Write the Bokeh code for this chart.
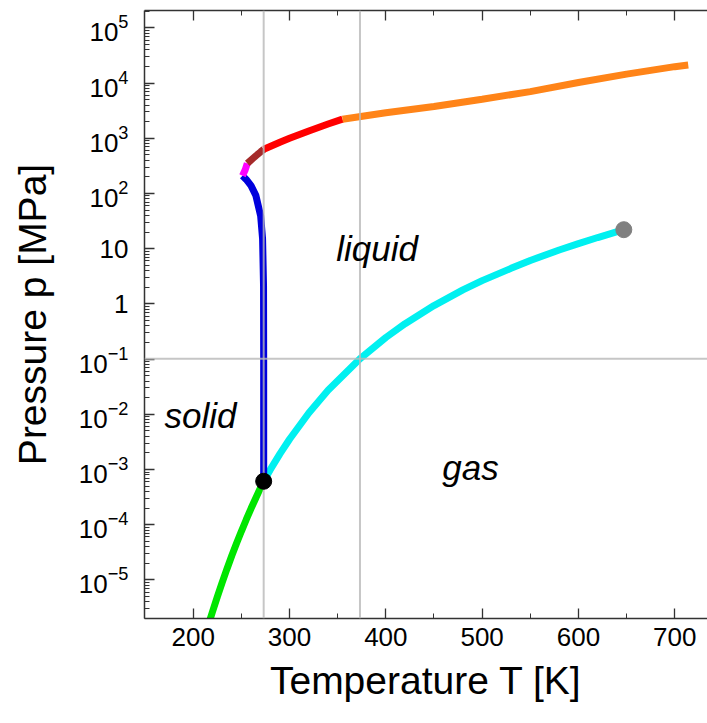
from bokeh.plotting import figure
from bokeh.models import Range1d, FixedTicker, LinearAxis, Label, Span, CustomJSTickFormatter, LogTickFormatter
from bokeh.embed import file_html
from bokeh.resources import INLINE

# ---------------- data (T in K, p in MPa) ----------------
sub_T = [215.0, 220.0, 225.0, 230.0, 235.0, 240.0, 245.0, 250.0, 255.0, 260.0, 265.0, 270.0, 273.16]
sub_p = [1.41e-6, 2.65e-6, 4.93e-6, 8.94e-6, 1.58e-5, 2.73e-5, 4.60e-5, 7.60e-5, 1.23e-4, 1.96e-4, 3.05e-4, 4.70e-4, 6.117e-4]

vap_T = [273.16, 280.0, 290.0, 300.0, 320.0, 340.0, 373.15, 400.0, 420.0, 450.0, 480.0, 500.0, 530.0, 550.0, 580.0, 600.0, 620.0, 647.1]
vap_p = [6.117e-4, 9.92e-4, 1.92e-3, 3.537e-3, 1.055e-2, 2.719e-2, 0.1013, 0.2458, 0.4373, 0.9322, 1.7905, 2.639, 4.397, 6.117, 9.46, 12.34, 15.91, 22.06]

ih_T = [273.16, 273.16, 273.15, 273.0, 272.0, 270.0, 265.0, 260.0, 255.0, 251.165]
ih_p = [6.117e-4, 0.01, 0.1013, 2.145, 15.14, 39.31, 92.33, 138.3, 179.4, 209.9]

iii_T = [251.165, 254.0, 256.164]
iii_p = [209.9, 268.8, 350.1]

v_T = [256.164, 260.0, 265.0, 270.0, 273.31]
v_p = [350.1, 402.6, 479.7, 567.6, 632.4]

vi_T = [273.31, 290.0, 300.0, 320.0, 340.0, 355.0]
vi_p = [632.4, 845.5, 996.5, 1356.8, 1808.3, 2216.0]

vii_T = [355.0, 400.0, 450.0, 500.0, 550.0, 600.0, 650.0, 700.0, 714.0]
vii_p = [2216.0, 2900.0, 3750.0, 5100.0, 7000.0, 10200.0, 14500.0, 19800.0, 21300.0]

triple_T = [273.16]
triple_p = [6.117e-4]
crit_T = [647.1]
crit_p = [22.06]

freezing_T = 273.15
boiling_T = 373.15
atm_p = 0.101325

region_names = ["solid", "liquid", "gas"]
region_T = [207.6, 391.0, 488.0]
region_p = [0.0095, 10.0, 1.08e-3]

x_major = [200, 300, 400, 500, 600, 700]
x_minor = [250, 350, 450, 550, 650]
y_exps = list(range(-5, 6))
y_major = [10.0 ** e for e in y_exps]
y_minor = [k * 10.0 ** e for e in range(-6, 6) for k in range(2, 10)]
y_plain = {1.0: "1", 10.0: "10"}

# ---------------- figure ----------------
W, H = 707, 723
x0, x1 = 149.4, 734.0
y0, y1 = 2.0e-6, 2.06e5

p = figure(width=W, height=H, x_range=Range1d(x0, x1), y_range=Range1d(y0, y1),
           y_axis_type="log", output_backend="svg", toolbar_location=None,
           min_border_left=144, min_border_right=0, min_border_top=10, min_border_bottom=105)
p.outline_line_color = None
p.xgrid.visible = False
p.ygrid.visible = False
p.background_fill_color = "white"
p.border_fill_color = "white"

AX = "#333333"
FONT = "Liberation Sans"

def style_axis(ax):
    ax.axis_line_color = AX
    ax.axis_line_width = 1.5
    ax.major_tick_line_color = AX
    ax.minor_tick_line_color = AX
    ax.major_tick_line_width = 1.3
    ax.minor_tick_line_width = 1.0
    ax.major_tick_in = 10
    ax.major_tick_out = 0
    ax.minor_tick_in = 5
    ax.minor_tick_out = 0

xa = p.xaxis[0]
xa.ticker = FixedTicker(ticks=x_major, minor_ticks=x_minor)
style_axis(xa)
xa.major_label_text_font = FONT
xa.major_label_text_font_size = "26px"
xa.major_label_text_color = "black"
xa.major_label_standoff = 9
xa.axis_label = "Temperature T [K]"
xa.axis_label_text_font = FONT
xa.axis_label_text_font_style = "normal"
xa.axis_label_text_font_size = "39px"
xa.axis_label_text_color = "black"
xa.axis_label_standoff = 10

top = LinearAxis(ticker=FixedTicker(ticks=x_major, minor_ticks=x_minor),
                 formatter=CustomJSTickFormatter(code="return ''"),
                 major_label_standoff=0, major_label_text_font_size="1px")
style_axis(top)
p.add_layout(top, "above")

ya = p.yaxis[0]
ya.ticker = FixedTicker(ticks=y_major, minor_ticks=y_minor)
ya.formatter = LogTickFormatter()
ya.major_label_overrides = y_plain
style_axis(ya)
ya.major_label_text_font = FONT
ya.major_label_text_font_size = "26px"
ya.major_label_text_color = "black"
ya.major_label_standoff = 16
ya.axis_label = "Pressure p [MPa]"
ya.axis_label_text_font = FONT
ya.axis_label_text_font_style = "normal"
ya.axis_label_text_font_size = "39px"
ya.axis_label_text_color = "black"
ya.axis_label_standoff = 22

# ---------------- curves ----------------
LW = 7
p.line(sub_T, sub_p, line_color="#00e600", line_width=LW)
p.line(vap_T, vap_p, line_color="#00f0f0", line_width=LW)
p.line(ih_T, ih_p, line_color="#0000dd", line_width=LW)
p.line(iii_T, iii_p, line_color="#ff00ff", line_width=LW)
p.line(v_T, v_p, line_color="#a52a2a", line_width=LW)
p.line(vi_T, vi_p, line_color="#ff0000", line_width=LW)
p.line(vii_T, vii_p, line_color="#ff8418", line_width=LW)

for loc, dim in [(freezing_T, "height"), (boiling_T, "height"), (atm_p, "width")]:
    p.add_layout(Span(location=loc, dimension=dim, line_color="#b8b8b8",
                      line_alpha=0.8, line_width=2))

p.scatter(triple_T, triple_p, size=16, color="black", level="overlay")
p.scatter(crit_T, crit_p, size=16, color="#808080", level="overlay")

# ---------------- region labels ----------------
for name, t, pr in zip(region_names, region_T, region_p):
    p.add_layout(Label(x=t, y=pr, text=name, text_font=FONT, text_font_style="italic",
                       text_font_size="35px", text_align="center",
                       text_baseline="alphabetic", text_color="black"))

open("out.html", "w").write(file_html(p, INLINE))
